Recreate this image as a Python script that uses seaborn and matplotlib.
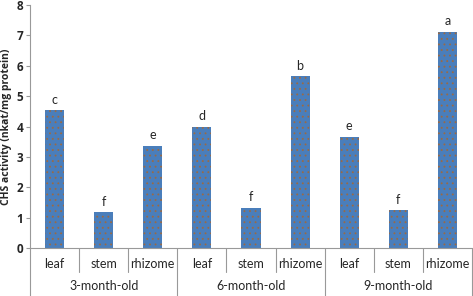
import seaborn as sns
import matplotlib.pyplot as plt
import matplotlib.transforms as mtransforms
import pandas as pd

# data
groups = ['3-month-old', '6-month-old', '9-month-old']
tissues = ['leaf', 'stem', 'rhizome']
activity = [4.53, 1.18, 3.37, 4.0, 1.33, 5.65, 3.66, 1.24, 7.12]
letters = ['c', 'f', 'e', 'd', 'f', 'b', 'e', 'f', 'a']

df = pd.DataFrame({
    'pos': range(len(activity)),
    'tissue': tissues * len(groups),
    'group': [g for g in groups for _ in tissues],
    'activity': activity,
})

sns.set_style('white')
plt.rcParams['font.family'] = ['Lato', 'DejaVu Sans']
plt.rcParams['hatch.linewidth'] = 0.6

fig = plt.figure(figsize=(4.73, 2.96), dpi=100)
ax = fig.add_axes([30 / 473, 48 / 296, 442 / 473, 243 / 296])

sns.barplot(data=df, x='pos', y='activity', color='#4a7ebb', saturation=1,
            width=0.39, ax=ax, native_scale=True)
for p in ax.patches:
    p.set_hatch('...')
    p.set_edgecolor('#9a6a45')
    p.set_linewidth(0)

ax.set_xlim(-0.5, len(activity) - 0.5)
ax.set_ylim(0, 8)
ax.set_yticks(range(9))
ax.set_yticklabels([str(i) for i in range(9)], fontsize=8.5, fontweight='bold',
                   family='Open Sans')
ax.set_xticks([])
ax.set_xlabel('')
ax.set_ylabel('CHS activity (nkat/mg protein)', fontsize=7.5, fontweight='bold',
              family='Open Sans', labelpad=3)
ax.tick_params(axis='y', length=3, width=0.8, color='#999999', left=True, pad=2)

for s in ['top', 'right']:
    ax.spines[s].set_visible(False)
ax.spines['left'].set_color('#999999')
ax.spines['bottom'].set_color('#999999')

# letters above bars
for i, (v, lt) in enumerate(zip(activity, letters)):
    ax.text(i, v + 0.15, lt, ha='center', va='bottom', fontsize=9)

# category axis with two label levels
tr = mtransforms.blended_transform_factory(ax.transData, ax.transAxes)
n = len(activity)
for i in range(n):
    ax.text(i, -16 / 243, df['tissue'][i], transform=tr, ha='center',
            va='center', fontsize=9)
for k, g in enumerate(groups):
    ax.text(3 * k + 1, -38 / 243, g, transform=tr, ha='center',
            va='center', fontsize=9)
for b in range(1, n + 1):
    x = b - 0.5
    y0 = -48 / 243 if b % 3 == 0 else -24 / 243
    ax.plot([x, x], [0, y0], transform=tr, color='#999999', lw=0.8,
            clip_on=False)
ax.plot([-0.5, -0.5], [0, -48 / 243], transform=tr, color='#999999',
        lw=0.8, clip_on=False)

fig.savefig('out.png', dpi=100)
